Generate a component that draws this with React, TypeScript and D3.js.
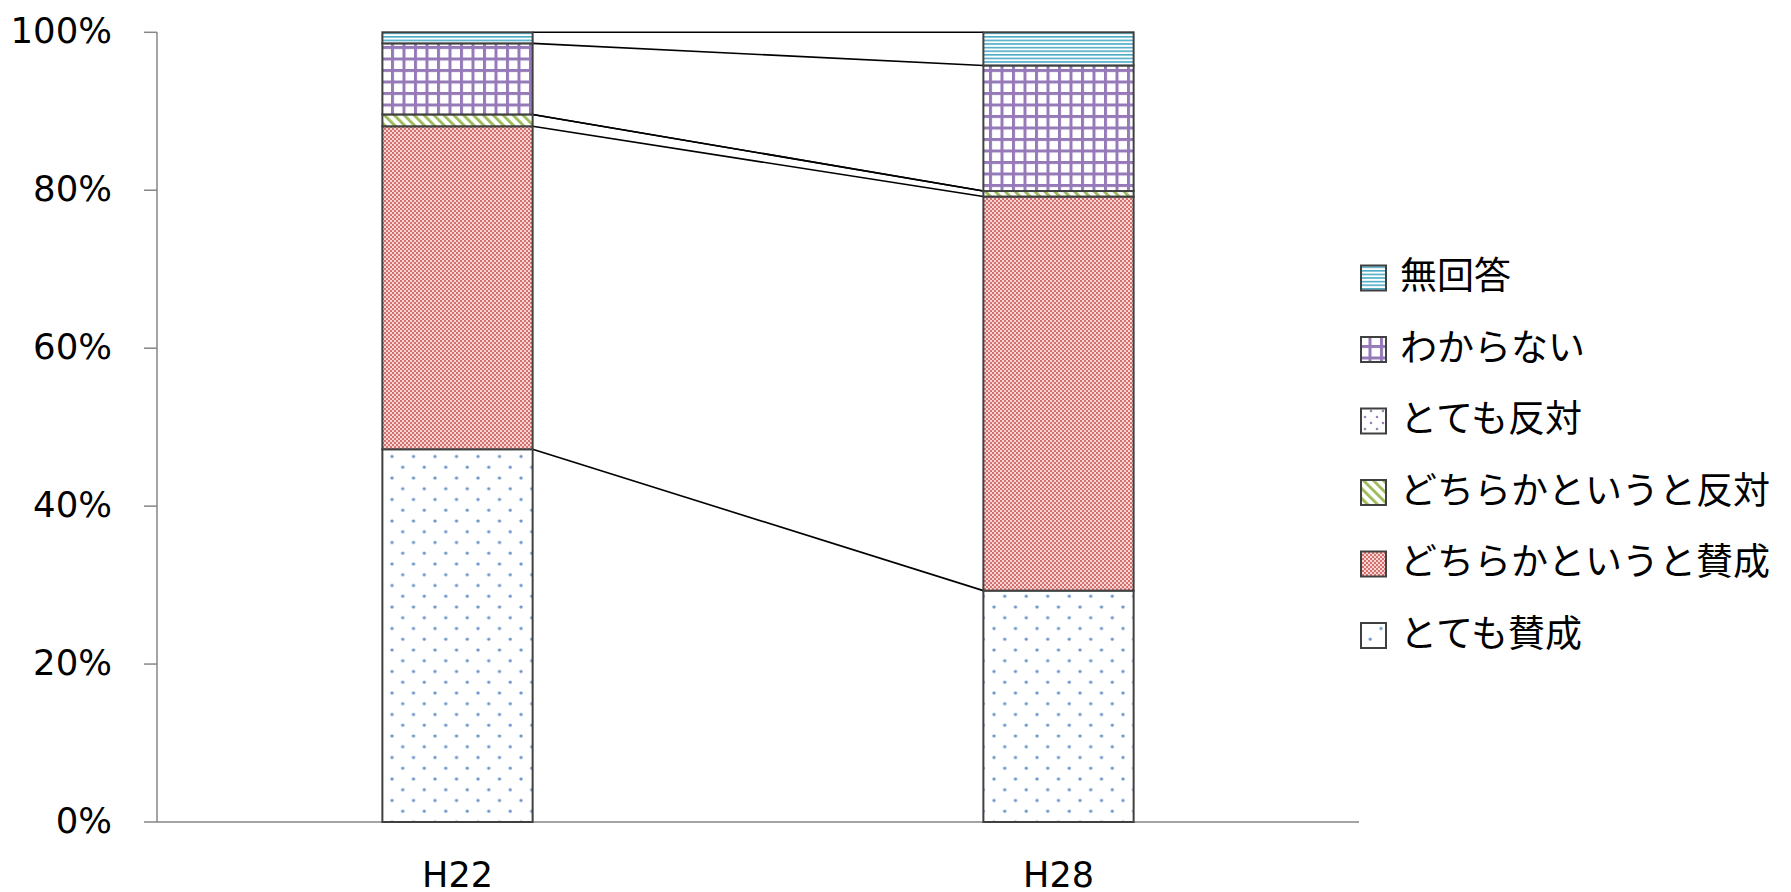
import React from "react";
import * as d3 from "d3";

const categories = ["H22", "H28"];
const seriesNames = [
  "とても賛成",
  "どちらかというと賛成",
  "どちらかというと反対",
  "とても反対",
  "わからない",
  "無回答",
];
const veryAgree = [47.2, 29.3];
const somewhatAgree = [40.9, 49.9];
const somewhatDisagree = [1.5, 0.7];
const veryDisagree = [0, 0];
const dontKnow = [9.0, 15.9];
const noAnswer = [1.4, 4.2];
const yTicks = [0, 20, 40, 60, 80, 100];

const seriesValues = [veryAgree, somewhatAgree, somewhatDisagree, veryDisagree, dontKnow, noAnswer];
const patternIds = ["pBlueDots", "pRed", "pGreen", "pPurpleDots", "pGrid", "pStripes"];

const W = 1791;
const H = 892;

export default function App() {
  const x = d3
    .scaleBand<string>()
    .domain(categories)
    .range([157, 1359])
    .paddingInner(0.75)
    .paddingOuter(0.375);
  const y = d3.scaleLinear().domain([0, 100]).range([822, 32.3]);

  const rows = categories.map((c, ci) => {
    const obj: any = { cat: c };
    seriesNames.forEach((s, si) => (obj[s] = seriesValues[si][ci]));
    return obj;
  });
  const stacked = d3.stack<any>().keys(seriesNames)(rows);

  const bw = x.bandwidth();
  const x0 = x(categories[0])! + bw;
  const x1 = x(categories[1])!;
  const font = "Verdana, 'DejaVu Sans', sans-serif";
  const jfont = "'Noto Sans CJK JP', sans-serif";

  const legendOrder = [...seriesNames.keys()].reverse();

  return (
    <svg
      width={W}
      height={H}
      style={{ position: "absolute", left: 0, top: 0, background: "#fff" }}
    >
      <defs>
        <pattern id="pBlueDots" patternUnits="userSpaceOnUse" width={21.5} height={21.5}>
          <rect width={21.5} height={21.5} fill="#fff" />
          <circle cx={5} cy={5} r={1.7} fill="#4F81BD" opacity={0.85} />
          <circle cx={15.75} cy={15.75} r={1.7} fill="#4F81BD" opacity={0.85} />
        </pattern>
        <pattern id="pRed" patternUnits="userSpaceOnUse" width={4} height={4}>
          <rect width={4} height={4} fill="#F6D6D5" />
          <rect x={0} y={0} width={2} height={2} fill="#D4706D" />
          <rect x={2} y={2} width={2} height={2} fill="#D4706D" />
        </pattern>
        <pattern
          id="pGreen"
          patternUnits="userSpaceOnUse"
          width={7}
          height={7}
          patternTransform="rotate(-45)"
        >
          <rect width={7} height={7} fill="#fff" />
          <rect x={0} y={0} width={2.8} height={7} fill="#9BBB59" />
        </pattern>
        <pattern id="pPurpleDots" patternUnits="userSpaceOnUse" width={12} height={12}>
          <rect width={12} height={12} fill="#fff" />
          <circle cx={3} cy={3} r={1.3} fill="#8064A2" opacity={0.8} />
          <circle cx={9} cy={9} r={1.3} fill="#8064A2" opacity={0.8} />
        </pattern>
        <pattern id="pGrid" patternUnits="userSpaceOnUse" width={11.5} height={11.5}>
          <rect width={11.5} height={11.5} fill="#fff" />
          <rect x={0} y={0} width={3} height={11.5} fill="#9579B8" />
          <rect x={0} y={0} width={11.5} height={3} fill="#9579B8" />
        </pattern>
        <pattern id="pStripes" patternUnits="userSpaceOnUse" width={8} height={3.6}>
          <rect width={8} height={3.6} fill="#fff" />
          <rect x={0} y={0} width={8} height={1.6} fill="#4BACC6" />
        </pattern>
      </defs>

      {/* axes */}
      <line x1={157} x2={157} y1={y(100)} y2={y(0)} stroke="#868686" strokeWidth={1.5} />
      <line x1={157} x2={1359} y1={y(0)} y2={y(0)} stroke="#868686" strokeWidth={1.5} />
      {yTicks.map((t) => (
        <g key={t}>
          <line x1={144} x2={157} y1={y(t)} y2={y(t)} stroke="#868686" strokeWidth={1.5} />
          <text
            x={112}
            y={y(t) - 2}
            textAnchor="end"
            dominantBaseline="central"
            fontFamily={font}
            fontSize={35.5}
            fill="#000"
          >
            {t}%
          </text>
        </g>
      ))}
      {categories.map((c) => (
        <text
          key={c}
          x={x(c)! + bw / 2}
          y={887}
          textAnchor="middle"
          fontFamily={font}
          fontSize={35}
          fill="#000"
        >
          {c}
        </text>
      ))}

      {/* series lines */}
      {stacked.map((s, si) => (
        <line
          key={"l" + si}
          x1={x0}
          x2={x1}
          y1={y(s[0][1])}
          y2={y(s[1][1])}
          stroke="#000"
          strokeWidth={1.6}
        />
      ))}

      {/* bars */}
      {stacked.map((s, si) => (
        <g key={"s" + si}>
          {s.map((d, ci) =>
            d[1] - d[0] > 0 ? (
              <rect
                key={ci}
                x={x(categories[ci])}
                y={y(d[1])}
                width={bw}
                height={y(d[0]) - y(d[1])}
                fill={`url(#${patternIds[si]})`}
                stroke="#404040"
                strokeWidth={2}
              />
            ) : null
          )}
        </g>
      ))}

      {/* legend */}
      {legendOrder.map((si, i) => {
        const cy = 278 + i * 71.5;
        return (
          <g key={"lg" + si}>
            <rect
              x={1361}
              y={cy - 12.5}
              width={25}
              height={25}
              fill={`url(#${patternIds[si]})`}
              stroke="#404040"
              strokeWidth={2}
            />
            <text
              x={1400}
              y={cy - 5}
              dominantBaseline="central"
              fontFamily={jfont}
              fontSize={37}
              fill="#000"
            >
              {seriesNames[si]}
            </text>
          </g>
        );
      })}
    </svg>
  );
}
